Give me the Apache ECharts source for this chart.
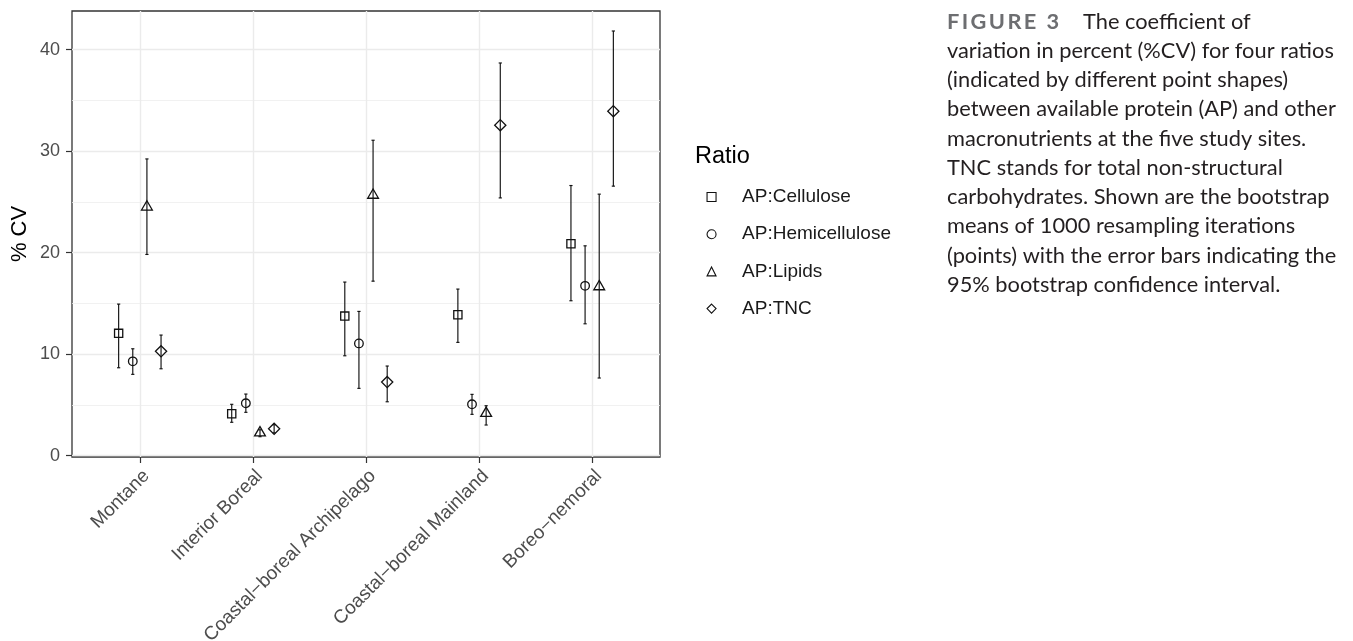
<!DOCTYPE html>
<html>
<head>
<meta charset="utf-8">
<script src="https://cdn.jsdelivr.net/npm/echarts@6/dist/echarts.min.js"></script>
<style>
html,body{margin:0;padding:0;background:#fff;}
#chart{width:1353px;height:641px;}
</style>
</head>
<body>
<div id="chart"></div>
<script>
// ---------- data ----------
const categories = ['Montane', 'Interior Boreal', 'Coastal\u2212boreal Archipelago', 'Coastal\u2212boreal Mainland', 'Boreo\u2212nemoral'];
const ratios = ['AP:Cellulose', 'AP:Hemicellulose', 'AP:Lipids', 'AP:TNC'];

const celluloseMean = [12.05, 4.13, 13.75, 13.88, 20.87];
const celluloseLow  = [8.66, 3.29, 9.84, 11.16, 15.26];
const celluloseHigh = [14.93, 5.06, 17.10, 16.41, 26.61];

const hemiMean = [9.29, 5.16, 11.06, 5.06, 16.73];
const hemiLow  = [8.01, 4.27, 6.63, 4.07, 12.99];
const hemiHigh = [10.53, 6.07, 14.21, 6.04, 20.67];

const lipidsMean = [24.5, 2.25, 25.66, 4.17, 16.65];
const lipidsLow  = [19.82, 1.87, 17.19, 3.02, 7.65];
const lipidsHigh = [29.23, 2.55, 31.07, 4.92, 25.76];

const tncMean = [10.28, 2.65, 7.25, 32.55, 33.93];
const tncLow  = [8.56, 2.25, 5.31, 25.39, 26.55];
const tncHigh = [11.88, 3.05, 8.83, 38.68, 41.83];

const yTicks = [0, 10, 20, 30, 40];
const yMinorTicks = [5, 15, 25, 35];
const yTitle = '% CV';
const legendTitle = 'Ratio';

const captionLines = [
  'The coefficient of',
  'variation in percent (%CV) for four ratios',
  '(indicated by different point shapes)',
  'between available protein (AP) and other',
  'macronutrients at the five study sites.',
  'TNC stands for total non-structural',
  'carbohydrates. Shown are the bootstrap',
  'means of 1000 resampling iterations',
  '(points) with the error bars indicating the',
  '95% bootstrap confidence interval.'
];
const figLabel = 'FIGURE 3';

// ---------- build ----------
const seriesData = [
  [celluloseMean, celluloseLow, celluloseHigh],
  [hemiMean, hemiLow, hemiHigh],
  [lipidsMean, lipidsLow, lipidsHigh],
  [tncMean, tncLow, tncHigh]
];
const icons = ['rect', 'circle', 'triangle', 'diamond'];
const FONT = '"Liberation Sans", Arial, Helvetica, sans-serif';
const dodgeStep = 0.125;

function makeRender(k) {
  return function (params, api) {
    const cat = api.value(0);
    const xo = cat + (k - 1.5) * dodgeStep;
    const pm = api.coord([xo, api.value(1)]);
    const pl = api.coord([xo, api.value(2)]);
    const ph = api.coord([xo, api.value(3)]);
    const x = pm[0], y = pm[1];
    const cap = 1.6;
    const ls = { stroke: '#111', lineWidth: 1.15 };
    const ms = { fill: 'none', stroke: '#111', lineWidth: 1.3 };
    let marker;
    if (k === 0) {
      marker = { type: 'rect', shape: { x: x - 4.1, y: y - 4.1, width: 8.2, height: 8.2 }, style: ms };
    } else if (k === 1) {
      marker = { type: 'circle', shape: { cx: x, cy: y, r: 4.3 }, style: ms };
    } else if (k === 2) {
      marker = { type: 'polygon', shape: { points: [[x, y - 6.2], [x + 5.4, y + 3.1], [x - 5.4, y + 3.1]] }, style: ms };
    } else {
      marker = { type: 'polygon', shape: { points: [[x, y - 5.6], [x + 5.6, y], [x, y + 5.6], [x - 5.6, y]] }, style: ms };
    }
    return {
      type: 'group',
      children: [
        { type: 'line', shape: { x1: x, y1: ph[1], x2: x, y2: pl[1] }, style: ls },
        { type: 'line', shape: { x1: x - cap, y1: ph[1], x2: x + cap, y2: ph[1] }, style: ls },
        { type: 'line', shape: { x1: x - cap, y1: pl[1], x2: x + cap, y2: pl[1] }, style: ls },
        marker
      ]
    };
  };
}

const series = ratios.map((name, k) => ({
  name: name,
  type: 'custom',
  xAxisIndex: 0,
  yAxisIndex: 0,
  clip: false,
  itemStyle: { color: 'rgba(0,0,0,0)', borderColor: '#000', borderWidth: 1 },
  encode: { x: 0, y: [1, 2, 3] },
  renderItem: makeRender(k),
  data: categories.map((c, i) => [i, seriesData[k][0][i], seriesData[k][1][i], seriesData[k][2][i]])
}));

// caption rich text
const capSize = 21.8, capLH = 29.26;
const rich = {
  f: { fontFamily: 'Lato', fontWeight: 'bold', fontSize: capSize, fill: '#6d6e71', padding: [0, 2.4, 0, 0], lineHeight: capLH },
  f3: { fontFamily: 'Lato', fontWeight: 'bold', fontSize: capSize, fill: '#6d6e71', padding: [0, 24, 0, 0], lineHeight: capLH },
  t: { fontFamily: 'Lato', fontSize: capSize, fill: '#231f20', lineHeight: capLH }
};
const figChars = figLabel.split('');
let firstLine = '';
figChars.forEach((ch, i) => {
  if (i === figChars.length - 1) firstLine += '{f3|' + ch + '}';
  else firstLine += '{f|' + (ch === ' ' ? '\u00a0' : ch) + '}';
});
firstLine += '{t|' + captionLines[0] + '}';
const captionText = [firstLine].concat(captionLines.slice(1).map(l => '{t|' + l + '}')).join('\n');

const option = {
  backgroundColor: '#fff',
  animation: false,
  grid: {
    left: 72, top: 11, right: 693, bottom: 184,
    containLabel: false, outerBoundsMode: 'none',
    show: true, borderColor: '#333', borderWidth: 1.3, backgroundColor: 'rgba(0,0,0,0)'
  },
  xAxis: {
    type: 'value', min: -0.6, max: 4.6,
    axisLine: { show: false, onZero: false },
    axisTick: { show: true, customValues: [0, 1, 2, 3, 4], length: 6, lineStyle: { color: '#333', width: 1.2 } },
    axisLabel: {
      customValues: [0, 1, 2, 3, 4],
      formatter: v => categories[Math.round(v)] || '',
      rotate: 45, margin: 9.4, verticalAlign: 'top', align: 'right',
      fontFamily: FONT, fontSize: 19, color: '#4d4d4d'
    },
    splitLine: { show: true, lineStyle: { color: '#ebebeb', width: 1.4 } }
  },
  yAxis: [
    {
      type: 'value', min: -0.13, max: 43.8,
      axisLine: { show: false, onZero: false },
      axisTick: { show: true, customValues: yTicks, length: 6, lineStyle: { color: '#333', width: 1.2 } },
      axisLabel: { customValues: yTicks, margin: 12, fontFamily: FONT, fontSize: 18, color: '#4d4d4d' },
      splitLine: { show: true, lineStyle: { color: '#ebebeb', width: 1.4 } }
    },
    {
      type: 'value', min: -0.13, max: 43.8, position: 'left',
      axisLine: { show: false, onZero: false },
      axisTick: { show: false, customValues: yMinorTicks },
      axisLabel: { show: false, customValues: yMinorTicks },
      splitLine: { show: true, lineStyle: { color: '#ededed', width: 0.8 } }
    }
  ],
  legend: {
    orient: 'vertical', left: 706.5, top: 187, padding: 0,
    itemWidth: 9, itemHeight: 9, itemGap: 17.2,
    selectedMode: false,
    textStyle: { fontFamily: FONT, fontSize: 19, color: '#1a1a1a', lineHeight: 20, padding: [0, 0, 0, 21] },
    data: ratios.map((r, i) => ({ name: r, icon: icons[i], itemStyle: { color: 'rgba(0,0,0,0)', borderColor: '#111', borderWidth: 1.1 } }))
  },
  graphic: [
    {
      type: 'text', x: 20, y: 234, rotation: Math.PI / 2,
      style: { text: yTitle, fontFamily: FONT, fontSize: 22, fill: '#000', align: 'center', verticalAlign: 'middle' }
    },
    {
      type: 'text', x: 695, y: 157,
      style: { text: legendTitle, fontFamily: FONT, fontSize: 23.5, fill: '#000', align: 'left', verticalAlign: 'middle' }
    },
    {
      type: 'text', x: 947, y: 7,
      style: { text: captionText, rich: rich, fontFamily: 'Lato', fontSize: capSize, lineHeight: capLH, fill: '#231f20', align: 'left', verticalAlign: 'top' }
    }
  ],
  series: series
};

const chart = echarts.init(document.getElementById('chart'), null, { renderer: 'canvas' });
chart.setOption(option);
</script>
</body>
</html>
